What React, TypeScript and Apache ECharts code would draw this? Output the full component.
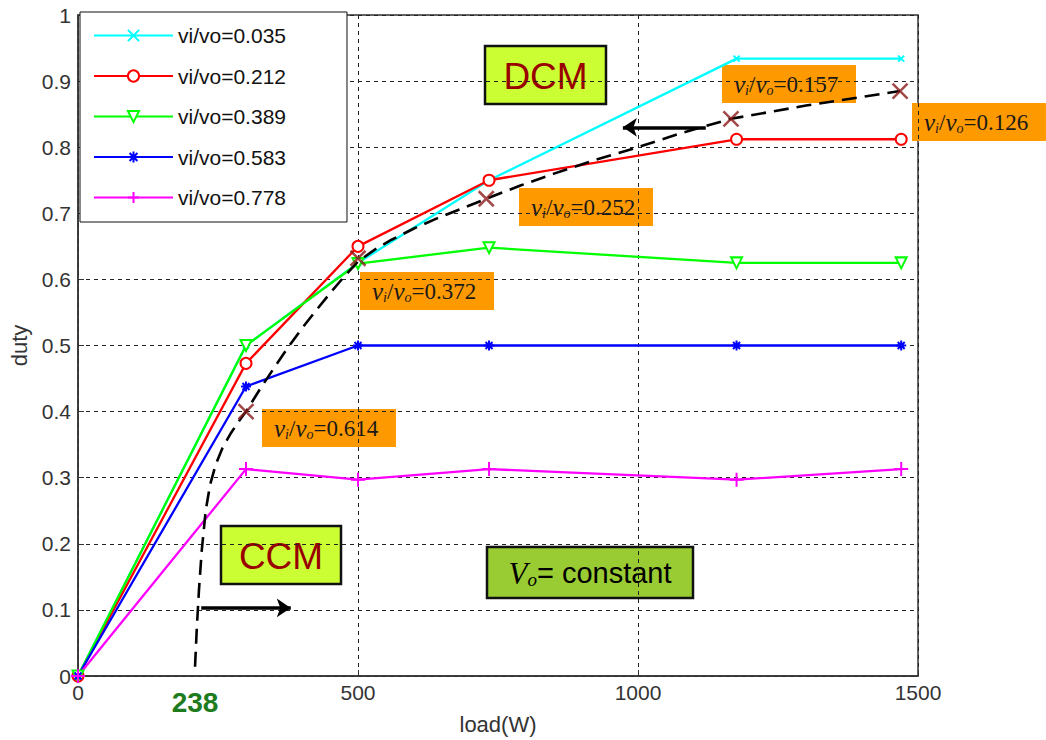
import React, { useEffect, useRef } from "react";
import * as echarts from "echarts";

// ---- data ----
const loadW = [0, 300, 500, 734, 1176, 1470];
const seriesNames = ["vi/vo=0.035", "vi/vo=0.212", "vi/vo=0.389", "vi/vo=0.583", "vi/vo=0.778"];
const duty035 = [0, 0.5, 0.625, 0.75, 0.934, 0.934];
const duty212 = [0, 0.473, 0.65, 0.75, 0.812, 0.812];
const duty389 = [0, 0.5, 0.624, 0.648, 0.625, 0.625];
const duty583 = [0, 0.438, 0.5, 0.5, 0.5, 0.5];
const duty778 = [0, 0.313, 0.297, 0.313, 0.297, 0.313];

const boundaryLoad = [209, 212, 216, 221, 228, 236, 246, 258, 272, 286, 300, 325, 350, 375, 400, 425, 450, 475, 500, 530, 560, 600, 640, 685, 729, 790, 850, 925, 1000, 1080, 1166, 1300, 1468];
const boundaryDuty = [0.014, 0.07, 0.13, 0.19, 0.25, 0.29, 0.32, 0.345, 0.366, 0.384, 0.4, 0.434, 0.466, 0.497, 0.526, 0.553, 0.579, 0.604, 0.627, 0.645, 0.66, 0.677, 0.692, 0.707, 0.722, 0.742, 0.76, 0.781, 0.8, 0.822, 0.843, 0.863, 0.885];

const critLoad = [300, 500, 729, 1166, 1468];
const critDuty = [0.4, 0.632, 0.722, 0.843, 0.885];
const critRatio = ["0.614", "0.372", "0.252", "0.157", "0.126"];

const arrowCCM = [[220, 0.103], [380, 0.103]];
const arrowDCM = [[1121, 0.83], [973, 0.83]];

const xTicks = { min: 0, max: 1500, interval: 500 };
const yTicks = { min: 0, max: 1, interval: 0.1 };
const boundaryLabel = "238";

// ---- layout of annotation boxes (pixels) ----
const ratioBoxes = [
  { x: 262, y: 409 },
  { x: 360, y: 272 },
  { x: 519, y: 188 },
  { x: 722, y: 65 },
  { x: 912, y: 103 },
];

const colors = ["#00FFFF", "#FF0000", "#00FF00", "#0000FF", "#FF00FF"];
const symbols = [
  "path://M0,0L10,10M10,0L0,10",
  "emptyCircle",
  "emptyTriangle",
  "path://M5,0L5,10M0,5L10,5M1.5,1.5L8.5,8.5M8.5,1.5L1.5,8.5",
  "path://M5,0L5,10M0,5L10,5",
];
const symbolSizes = [6, 11, 11, 10, 14];

const SANS = "Liberation Sans, Arial, sans-serif";
const SERIF = "Liberation Serif, Times New Roman, serif";

export default function App() {
  const ref = useRef<HTMLDivElement>(null);
  useEffect(() => {
    if (!ref.current) return;
    const chart = echarts.init(ref.current, null, { renderer: "svg" });
    const dutySets = [duty035, duty212, duty389, duty583, duty778];

    const lineSeries = dutySets.map((d, i) => ({
      name: seriesNames[i],
      type: "line",
      data: loadW.map((x, k) => [x, d[k]]),
      symbol: symbols[i],
      symbolSize: symbolSizes[i],
      symbolRotate: i === 2 ? 180 : 0,
      showAllSymbol: true,
      lineStyle: { color: colors[i], width: 2.3 },
      itemStyle: { color: colors[i], borderColor: colors[i], borderWidth: 2 },
      z: 3,
    }));

    const ratioGraphics = critRatio.map((r, i) => ({
      type: "group",
      x: ratioBoxes[i].x,
      y: ratioBoxes[i].y,
      z: 100,
      children: [
        { type: "rect", shape: { x: 0, y: 0, width: 134, height: 38 }, style: { fill: "#FF9900" } },
        {
          type: "text",
          x: 12,
          y: 19,
          style: {
            text: `{v|v}{s|i}{n|/}{v|v}{s|o}{n|=${r}}`,
            verticalAlign: "middle",
            align: "left",
            rich: {
              v: { fontFamily: SERIF, fontStyle: "italic", fontSize: 25, lineHeight: 26, fill: "#1a1a1a" },
              s: { fontFamily: SERIF, fontStyle: "italic", fontSize: 14, lineHeight: 12, verticalAlign: "bottom", fill: "#1a1a1a" },
              n: { fontFamily: SERIF, fontSize: 23, lineHeight: 26, fill: "#1a1a1a" },
            },
          },
        },
      ],
    }));

    const modeBox = (x: number, y: number, w: number, h: number, text: string) => ({
      type: "group",
      x,
      y,
      z: 100,
      children: [
        {
          type: "rect",
          shape: { x: 0, y: 0, width: w, height: h },
          style: { fill: "#CCFF33", stroke: "#111", lineWidth: 2.5 },
        },
        {
          type: "text",
          x: w / 2,
          y: h / 2 + 1,
          style: { text, fontFamily: SANS, fontSize: 37, fill: "#990000", align: "center", verticalAlign: "middle" },
        },
      ],
    });

    chart.setOption({
      animation: false,
      backgroundColor: "#ffffff",
      grid: { left: 77, top: 15, width: 841, height: 666, show: true, borderColor: "#333", borderWidth: 1.5, backgroundColor: "transparent" },
      legend: {
        data: seriesNames,
        orient: "vertical",
        left: 80,
        top: 12,
        padding: [13, 61, 14, 13],
        itemWidth: 79,
        itemHeight: 14,
        itemGap: 19.5,
        backgroundColor: "#fff",
        borderColor: "#111",
        borderWidth: 1,
        textStyle: { fontSize: 21, fontFamily: SANS, color: "#111" },
        z: 50,
      },
      xAxis: {
        type: "value",
        ...xTicks,
        name: "load(W)",
        nameLocation: "middle",
        nameGap: 37,
        nameTextStyle: { fontSize: 22, fontFamily: SANS, color: "#333" },
        axisLine: { show: true, lineStyle: { color: "#333", width: 1.5 } },
        axisTick: { show: true, inside: true, length: 6, lineStyle: { color: "#333" } },
        axisLabel: { fontSize: 21, fontFamily: SANS, color: "#333", margin: 6, formatter: (v: number) => String(v) },
        splitLine: { show: true, lineStyle: { color: "#222", width: 1, type: [4, 4] } },
      },
      yAxis: {
        type: "value",
        ...yTicks,
        name: "duty",
        nameLocation: "middle",
        nameGap: 48,
        nameTextStyle: { fontSize: 22, fontFamily: SANS, color: "#333" },
        axisLine: { show: true, lineStyle: { color: "#333", width: 1.5 } },
        axisTick: { show: true, inside: true, length: 6, lineStyle: { color: "#333" } },
        axisLabel: { fontSize: 21, fontFamily: SANS, color: "#333", margin: 7, formatter: (v: number) => String(Math.round(v * 10) / 10) },
        splitLine: { show: true, lineStyle: { color: "#222", width: 1, type: [4, 4] } },
      },
      series: [
        ...lineSeries,
        {
          name: "boundary",
          type: "line",
          data: boundaryLoad.map((x, k) => [x, boundaryDuty[k]]),
          showSymbol: false,
          smooth: false,
          lineStyle: { color: "#000", width: 2.6, type: [15, 8], join: "round" },
          z: 4,
          markLine: {
            silent: true,
            symbol: ["none", "arrow"],
            symbolSize: [14, 14],
            label: { show: false },
            lineStyle: { color: "#000", width: 3.5, type: "solid" },
            data: [
              [{ coord: arrowCCM[0] }, { coord: arrowCCM[1] }],
              [{ coord: arrowDCM[0] }, { coord: arrowDCM[1] }],
            ],
          },
        },
        {
          name: "critical",
          type: "scatter",
          data: critLoad.map((x, k) => [x, critDuty[k]]),
          symbol: "path://M0,0L10,10M10,0L0,10",
          symbolSize: 15,
          itemStyle: { color: "#8B1A1A", borderColor: "#8B1A1A", borderWidth: 2.5 },
          z: 5,
        },
      ],
      graphic: [
        ...ratioGraphics,
        modeBox(485, 46, 121, 58, "DCM"),
        modeBox(221, 526, 120, 58, "CCM"),
        {
          type: "group",
          x: 487,
          y: 547,
          z: 100,
          children: [
            { type: "rect", shape: { x: 0, y: 0, width: 206, height: 51 }, style: { fill: "#99CC33", stroke: "#111", lineWidth: 2.5 } },
            {
              type: "text",
              x: 103,
              y: 26,
              style: {
                text: "{V|V}{s|o}{t|= constant}",
                align: "center",
                verticalAlign: "middle",
                rich: {
                  V: { fontFamily: SERIF, fontStyle: "italic", fontSize: 31, lineHeight: 32, fill: "#000" },
                  s: { fontFamily: SERIF, fontStyle: "italic", fontSize: 19, lineHeight: 14, verticalAlign: "bottom", fill: "#000" },
                  t: { fontFamily: SANS, fontSize: 29, lineHeight: 32, fill: "#000" },
                },
              },
            },
          ],
        },
        {
          type: "text",
          x: 195,
          y: 702,
          z: 100,
          style: { text: boundaryLabel, fontFamily: SANS, fontWeight: "bold", fontSize: 28, fill: "#1E7B1E", align: "center", verticalAlign: "middle" },
        },
      ],
    });
    return () => chart.dispose();
  }, []);
  return <div ref={ref} style={{ position: "fixed", left: 0, top: 0, width: 1046, height: 740, background: "#fff" }} />;
}
